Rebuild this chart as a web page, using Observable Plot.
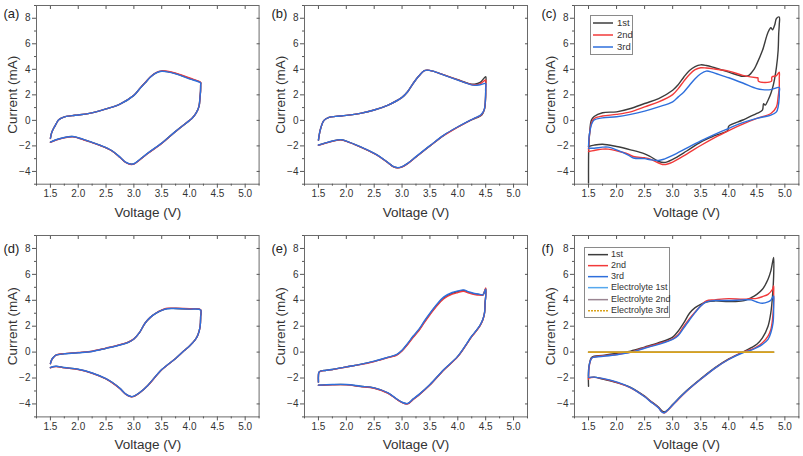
<!DOCTYPE html>
<html><head><meta charset="utf-8">
<script src="https://cdn.jsdelivr.net/npm/d3@7"></script>
<script src="https://cdn.jsdelivr.net/npm/@observablehq/plot@0.6"></script>
<style>
body{margin:0;background:#fff;font-family:"Liberation Sans",Arial,sans-serif}
#root{position:relative;width:803px;height:456px;overflow:hidden;background:#fff}
.panel{position:absolute}
.legend{position:absolute;border:1px solid #8a8a8a;background:#fff;box-sizing:border-box;color:#333}
.legend .row{position:relative;white-space:nowrap}
.legend svg{position:absolute;left:0;top:0}
.legend span{position:absolute}
</style></head>
<body><div id="root"></div>
<script>
// ---- axis ticks ----
const xTicks = [1.5, 2.0, 2.5, 3.0, 3.5, 4.0, 4.5, 5.0];
const xMinor = [1.25, 1.75, 2.25, 2.75, 3.25, 3.75, 4.25, 4.75, 5.25];
const yTicks = [-4, -2, 0, 2, 4, 6, 8];
const yMinor = [-5, -3, -1, 1, 3, 5, 7, 9];
const xDomain = [1.25, 5.25];
const yDomain = [-5, 9];

// ---- colours / names ----
const cycleNames = ["1st", "2nd", "3rd"];
const cycleColors = ["#3c3c3c", "#f23a3a", "#2e6fdc"];
const fNames = ["1st", "2nd", "3rd", "Electrolyte 1st", "Electrolyte 2nd", "Electrolyte 3rd"];
const fColors = ["#3c3c3c", "#f23a3a", "#2e6fdc", "#56a8ee", "#9a8592", "#d9a21c"];

// ---- panel (a) ----
const aBlue = [[1.5,-1.4],[1.52,-1.0],[1.56,-0.6],[1.6,-0.3],[1.65,0.05],[1.74,0.26],[1.89,0.37],[2.0,0.42],[2.2,0.55],[2.5,0.9],[2.75,1.28],[3.0,1.96],[3.1,2.46],[3.2,2.93],[3.3,3.4],[3.4,3.72],[3.5,3.85],[3.6,3.8],[3.75,3.64],[4.0,3.25],[4.2,2.93],[4.2,2.8],[4.198,2.3],[4.19,1.9],[4.17,1.1],[4.12,0.58],[4.05,0.18],[4.0,0.0],[3.75,-0.86],[3.5,-1.78],[3.25,-2.57],[3.1,-3.09],[3.0,-3.4],[2.95,-3.43],[2.85,-3.27],[2.75,-2.88],[2.6,-2.36],[2.4,-1.96],[2.2,-1.65],[2.0,-1.36],[1.9,-1.26],[1.75,-1.34],[1.6,-1.52],[1.5,-1.7]];
const aRed = [[1.5,-1.42],[1.52,-1.0],[1.56,-0.6],[1.6,-0.3],[1.65,0.05],[1.74,0.26],[1.89,0.37],[2.0,0.42],[2.2,0.55],[2.5,0.9],[2.75,1.28],[3.0,1.97],[3.1,2.47],[3.2,2.95],[3.3,3.42],[3.4,3.75],[3.5,3.88],[3.6,3.85],[3.75,3.7],[4.0,3.32],[4.2,2.98],[4.2,2.8],[4.198,2.3],[4.19,1.9],[4.17,1.1],[4.12,0.58],[4.05,0.18],[4.0,0.0],[3.75,-0.87],[3.5,-1.8],[3.25,-2.6],[3.1,-3.12],[3.0,-3.43],[2.95,-3.46],[2.85,-3.29],[2.75,-2.9],[2.6,-2.38],[2.4,-1.98],[2.2,-1.67],[2.0,-1.38],[1.9,-1.28],[1.75,-1.36],[1.6,-1.54],[1.5,-1.72]];
const aBlack = [[1.5,-1.41],[1.52,-1.0],[1.56,-0.6],[1.6,-0.3],[1.65,0.05],[1.74,0.26],[1.89,0.37],[2.0,0.42],[2.2,0.55],[2.5,0.9],[2.75,1.28],[3.0,1.96],[3.1,2.46],[3.2,2.94],[3.3,3.41],[3.4,3.73],[3.5,3.86],[3.6,3.82],[3.75,3.67],[4.0,3.28],[4.2,2.95],[4.2,2.8],[4.198,2.3],[4.19,1.9],[4.17,1.1],[4.12,0.58],[4.05,0.18],[4.0,0.0],[3.75,-0.86],[3.5,-1.79],[3.25,-2.58],[3.1,-3.1],[3.0,-3.41],[2.95,-3.44],[2.85,-3.28],[2.75,-2.89],[2.6,-2.37],[2.4,-1.97],[2.2,-1.66],[2.0,-1.37],[1.9,-1.27],[1.75,-1.35],[1.6,-1.53],[1.5,-1.71]];

// ---- panel (b) ----
const bBlue = [[1.5,-1.54],[1.52,-1.0],[1.54,-0.63],[1.6,0.0],[1.69,0.23],[1.81,0.31],[2.0,0.39],[2.25,0.55],[2.5,0.81],[2.75,1.2],[3.0,1.8],[3.1,2.24],[3.2,2.9],[3.3,3.47],[3.4,3.89],[3.45,3.94],[3.55,3.86],[3.75,3.55],[4.0,3.16],[4.2,2.84],[4.3,2.74],[4.4,2.79],[4.5,2.88],[4.5,2.5],[4.495,1.6],[4.47,0.8],[4.41,0.42],[4.32,0.21],[4.2,-0.03],[4.0,-0.5],[3.75,-1.15],[3.5,-1.98],[3.25,-2.84],[3.1,-3.37],[3.0,-3.63],[2.92,-3.7],[2.85,-3.63],[2.75,-3.31],[2.6,-2.84],[2.5,-2.58],[2.25,-2.06],[2.0,-1.62],[1.9,-1.51],[1.75,-1.62],[1.6,-1.8],[1.5,-1.93]];
const bRed = [[1.5,-1.55],[1.52,-1.0],[1.54,-0.63],[1.6,0.0],[1.69,0.23],[1.81,0.31],[2.0,0.39],[2.25,0.55],[2.5,0.81],[2.75,1.2],[3.0,1.8],[3.1,2.24],[3.2,2.9],[3.3,3.47],[3.4,3.89],[3.45,3.94],[3.55,3.86],[3.75,3.56],[4.0,3.17],[4.2,2.86],[4.3,2.78],[4.4,2.86],[4.5,3.16],[4.5,2.7],[4.497,1.7],[4.475,0.85],[4.42,0.42],[4.33,0.21],[4.2,-0.05],[4.0,-0.53],[3.75,-1.18],[3.5,-2.01],[3.25,-2.87],[3.1,-3.39],[3.0,-3.65],[2.92,-3.72],[2.85,-3.65],[2.75,-3.33],[2.6,-2.86],[2.5,-2.6],[2.25,-2.08],[2.0,-1.64],[1.9,-1.53],[1.75,-1.64],[1.6,-1.82],[1.5,-1.95]];
const bBlack = [[1.5,-1.56],[1.52,-1.0],[1.54,-0.63],[1.6,0.0],[1.69,0.23],[1.81,0.31],[2.0,0.39],[2.25,0.55],[2.5,0.81],[2.75,1.2],[3.0,1.8],[3.1,2.24],[3.2,2.9],[3.3,3.47],[3.4,3.89],[3.45,3.94],[3.55,3.86],[3.75,3.56],[4.0,3.18],[4.2,2.88],[4.3,2.84],[4.4,2.97],[4.5,3.42],[4.5,2.8],[4.498,1.8],[4.48,0.9],[4.43,0.42],[4.34,0.21],[4.2,-0.05],[4.0,-0.52],[3.75,-1.17],[3.5,-2.0],[3.25,-2.86],[3.1,-3.38],[3.0,-3.64],[2.92,-3.71],[2.85,-3.64],[2.75,-3.32],[2.6,-2.85],[2.5,-2.59],[2.25,-2.07],[2.0,-1.63],[1.9,-1.52],[1.75,-1.63],[1.6,-1.81],[1.5,-1.94]];

// ---- panel (c) ----
const cBlack = [[1.5,-4.9],[1.5,-3.5],[1.505,-2.0],[1.52,-1.0],[1.55,0.0],[1.6,0.3],[1.75,0.6],[2.0,0.67],[2.25,0.93],[2.5,1.32],[2.75,1.71],[3.0,2.36],[3.1,2.8],[3.2,3.4],[3.3,3.91],[3.4,4.22],[3.5,4.35],[3.6,4.3],[3.75,4.12],[4.0,3.78],[4.25,3.45],[4.35,3.5],[4.45,4.0],[4.5,4.43],[4.6,5.47],[4.7,6.9],[4.75,7.26],[4.78,7.1],[4.82,7.5],[4.85,7.98],[4.9,8.1],[4.9,7.5],[4.89,6.76],[4.88,5.47],[4.85,4.17],[4.8,2.88],[4.75,2.1],[4.7,1.58],[4.65,1.19],[4.62,1.3],[4.6,0.8],[4.5,0.54],[4.25,0.03],[4.0,-0.45],[3.98,-0.8],[3.75,-1.2],[3.5,-1.7],[3.25,-2.4],[3.0,-3.05],[2.85,-3.3],[2.75,-3.22],[2.6,-2.83],[2.5,-2.62],[2.25,-2.31],[2.0,-2.05],[1.75,-1.87],[1.6,-1.94],[1.5,-2.05]];
const cRed = [[1.5,-2.3],[1.51,-1.5],[1.52,-1.0],[1.55,-0.25],[1.6,0.15],[1.75,0.34],[2.0,0.47],[2.25,0.67],[2.5,1.06],[2.75,1.45],[3.0,2.02],[3.1,2.49],[3.2,3.08],[3.3,3.6],[3.4,3.97],[3.5,4.12],[3.6,4.1],[3.75,4.02],[4.0,3.86],[4.25,3.53],[4.5,3.34],[4.52,3.34],[4.53,3.06],[4.76,3.06],[4.77,3.4],[4.85,3.5],[4.9,3.78],[4.9,3.3],[4.9,2.62],[4.88,1.84],[4.85,1.06],[4.75,0.54],[4.5,0.16],[4.25,-0.29],[4.0,-0.8],[3.75,-1.35],[3.5,-1.97],[3.25,-2.64],[3.0,-3.27],[2.85,-3.47],[2.75,-3.34],[2.6,-3.03],[2.5,-2.93],[2.3,-2.83],[2.2,-2.62],[2.0,-2.38],[1.85,-2.25],[1.75,-2.25],[1.6,-2.36],[1.5,-2.44]];
const cBlue = [[1.5,-2.05],[1.51,-1.3],[1.52,-1.0],[1.55,-0.36],[1.6,0.03],[1.75,0.2],[2.0,0.28],[2.25,0.47],[2.5,0.73],[2.75,1.06],[3.0,1.45],[3.1,1.84],[3.2,2.23],[3.3,2.75],[3.4,3.27],[3.5,3.65],[3.6,3.86],[3.7,3.78],[3.75,3.7],[4.0,3.34],[4.25,2.93],[4.5,2.49],[4.6,2.41],[4.75,2.41],[4.9,2.57],[4.9,2.2],[4.9,1.84],[4.88,1.06],[4.85,0.67],[4.75,0.41],[4.5,0.16],[4.25,-0.18],[4.0,-0.62],[3.75,-1.09],[3.5,-1.61],[3.25,-2.18],[3.0,-2.75],[2.85,-3.03],[2.75,-3.14],[2.6,-3.08],[2.5,-3.0],[2.3,-2.95],[2.2,-2.7],[2.0,-2.31],[1.85,-2.1],[1.75,-2.1],[1.6,-2.18],[1.5,-2.18]];

// ---- panel (d) ----
const dBlue = [[1.5,-0.88],[1.52,-0.62],[1.55,-0.42],[1.6,-0.23],[1.7,-0.16],[1.75,-0.13],[2.0,-0.05],[2.25,0.05],[2.5,0.29],[2.75,0.55],[2.9,0.75],[3.0,1.01],[3.1,1.5],[3.2,2.23],[3.3,2.7],[3.4,3.01],[3.5,3.22],[3.6,3.35],[3.75,3.36],[4.0,3.32],[4.2,3.25],[4.2,2.75],[4.19,1.97],[4.15,1.32],[4.1,0.94],[4.0,0.47],[3.9,0.1],[3.75,-0.49],[3.5,-1.35],[3.25,-2.57],[3.1,-3.14],[3.0,-3.4],[2.95,-3.43],[2.85,-3.22],[2.75,-2.8],[2.6,-2.31],[2.5,-2.05],[2.25,-1.61],[2.0,-1.32],[1.75,-1.19],[1.6,-1.09],[1.5,-1.19]];
const dRed = [[1.5,-0.9],[1.52,-0.63],[1.55,-0.43],[1.6,-0.24],[1.7,-0.14],[1.75,-0.12],[2.0,-0.03],[2.25,0.07],[2.5,0.31],[2.75,0.57],[2.9,0.77],[3.0,1.02],[3.1,1.5],[3.2,2.23],[3.3,2.7],[3.4,3.02],[3.5,3.24],[3.6,3.38],[3.75,3.38],[4.0,3.35],[4.2,3.27],[4.2,2.75],[4.19,1.97],[4.15,1.32],[4.1,0.94],[4.0,0.47],[3.9,0.1],[3.75,-0.5],[3.5,-1.37],[3.25,-2.58],[3.1,-3.16],[3.0,-3.42],[2.95,-3.45],[2.85,-3.24],[2.75,-2.82],[2.6,-2.33],[2.5,-2.07],[2.25,-1.63],[2.0,-1.34],[1.75,-1.21],[1.6,-1.11],[1.5,-1.21]];
const dBlack = [[1.5,-0.89],[1.52,-0.62],[1.55,-0.42],[1.6,-0.23],[1.7,-0.15],[1.75,-0.12],[2.0,-0.04],[2.25,0.06],[2.5,0.3],[2.75,0.56],[2.9,0.76],[3.0,1.01],[3.1,1.5],[3.2,2.23],[3.3,2.7],[3.4,3.01],[3.5,3.23],[3.6,3.36],[3.75,3.37],[4.0,3.33],[4.2,3.26],[4.2,2.75],[4.19,1.97],[4.15,1.32],[4.1,0.94],[4.0,0.47],[3.9,0.1],[3.75,-0.49],[3.5,-1.36],[3.25,-2.57],[3.1,-3.15],[3.0,-3.41],[2.95,-3.44],[2.85,-3.23],[2.75,-2.81],[2.6,-2.32],[2.5,-2.06],[2.25,-1.62],[2.0,-1.33],[1.75,-1.2],[1.6,-1.1],[1.5,-1.2]];

// ---- panel (e) ----
const eBlue = [[1.5,-2.32],[1.5,-1.8],[1.51,-1.55],[1.55,-1.45],[1.6,-1.42],[1.75,-1.34],[2.0,-1.14],[2.25,-0.95],[2.5,-0.7],[2.75,-0.39],[2.9,-0.2],[3.0,0.15],[3.1,0.67],[3.2,1.24],[3.3,1.75],[3.4,2.4],[3.5,3.0],[3.6,3.56],[3.75,4.26],[3.9,4.6],[4.0,4.72],[4.1,4.8],[4.2,4.65],[4.3,4.52],[4.4,4.46],[4.45,4.42],[4.5,4.85],[4.5,4.3],[4.49,3.82],[4.48,3.05],[4.45,2.53],[4.4,2.09],[4.3,1.5],[4.25,1.24],[4.0,-0.31],[3.75,-1.34],[3.5,-2.5],[3.3,-3.28],[3.2,-3.61],[3.1,-3.97],[3.0,-3.87],[2.9,-3.61],[2.75,-3.15],[2.5,-2.76],[2.25,-2.63],[2.0,-2.5],[1.75,-2.5],[1.6,-2.53],[1.5,-2.55]];
const eRed = [[1.5,-2.33],[1.5,-1.8],[1.51,-1.56],[1.55,-1.46],[1.6,-1.43],[1.75,-1.35],[2.0,-1.15],[2.25,-0.97],[2.5,-0.73],[2.75,-0.43],[2.9,-0.25],[3.0,0.08],[3.1,0.58],[3.2,1.14],[3.3,1.65],[3.4,2.28],[3.5,2.88],[3.6,3.44],[3.75,4.12],[3.9,4.47],[4.0,4.6],[4.1,4.7],[4.2,4.56],[4.3,4.45],[4.4,4.4],[4.45,4.4],[4.5,4.95],[4.5,4.3],[4.49,3.82],[4.48,3.05],[4.45,2.5],[4.4,2.05],[4.3,1.45],[4.25,1.2],[4.0,-0.35],[3.75,-1.38],[3.5,-2.54],[3.3,-3.32],[3.2,-3.66],[3.1,-4.0],[3.0,-3.9],[2.9,-3.64],[2.75,-3.18],[2.5,-2.79],[2.25,-2.66],[2.0,-2.52],[1.75,-2.52],[1.6,-2.55],[1.5,-2.57]];
const eBlack = [[1.5,-2.32],[1.5,-1.8],[1.51,-1.55],[1.55,-1.45],[1.6,-1.42],[1.75,-1.34],[2.0,-1.14],[2.25,-0.95],[2.5,-0.71],[2.75,-0.41],[2.9,-0.22],[3.0,0.12],[3.1,0.63],[3.2,1.2],[3.3,1.7],[3.4,2.34],[3.5,2.95],[3.6,3.5],[3.75,4.2],[3.9,4.54],[4.0,4.67],[4.1,4.76],[4.2,4.61],[4.3,4.49],[4.4,4.43],[4.45,4.41],[4.5,4.9],[4.5,4.3],[4.49,3.82],[4.48,3.05],[4.45,2.52],[4.4,2.07],[4.3,1.48],[4.25,1.22],[4.0,-0.33],[3.75,-1.36],[3.5,-2.52],[3.3,-3.3],[3.2,-3.63],[3.1,-3.98],[3.0,-3.88],[2.9,-3.62],[2.75,-3.16],[2.5,-2.77],[2.25,-2.64],[2.0,-2.51],[1.75,-2.51],[1.6,-2.54],[1.5,-2.56]];

// ---- panel (f) ----
const fBlack = [[1.5,-2.63],[1.5,-1.4],[1.52,-0.83],[1.55,-0.44],[1.6,-0.31],[1.75,-0.26],[2.0,-0.1],[2.25,0.08],[2.5,0.39],[2.75,0.72],[3.0,1.16],[3.1,1.63],[3.2,2.27],[3.3,3.0],[3.4,3.43],[3.5,3.69],[3.6,3.87],[3.75,3.95],[4.0,3.9],[4.25,3.95],[4.4,4.2],[4.5,4.46],[4.6,4.85],[4.7,5.63],[4.75,6.27],[4.8,7.3],[4.8,5.88],[4.78,4.34],[4.75,3.05],[4.7,2.0],[4.6,1.1],[4.5,0.6],[4.4,0.34],[4.25,0.0],[4.0,-0.52],[3.75,-1.21],[3.5,-2.06],[3.25,-2.97],[3.1,-3.6],[3.0,-4.05],[2.9,-4.5],[2.85,-4.62],[2.8,-4.5],[2.75,-4.25],[2.6,-3.75],[2.5,-3.4],[2.25,-2.72],[2.0,-2.35],[1.75,-2.08],[1.6,-1.93],[1.5,-1.99]];
const fRed = [[1.5,-2.1],[1.51,-1.2],[1.53,-0.7],[1.56,-0.45],[1.6,-0.38],[2.0,-0.18],[2.25,0.0],[2.5,0.34],[2.75,0.65],[3.0,1.03],[3.1,1.36],[3.2,2.0],[3.3,2.58],[3.4,3.1],[3.5,3.56],[3.6,3.95],[3.75,4.03],[4.0,4.13],[4.25,4.08],[4.4,4.12],[4.5,4.15],[4.6,4.28],[4.7,4.46],[4.78,4.85],[4.8,5.1],[4.8,4.5],[4.8,3.82],[4.78,2.53],[4.75,1.75],[4.7,1.24],[4.6,0.72],[4.5,0.41],[4.4,0.2],[4.25,0.0],[4.0,-0.55],[3.75,-1.25],[3.5,-2.1],[3.25,-3.02],[3.1,-3.65],[3.0,-4.1],[2.9,-4.55],[2.85,-4.7],[2.8,-4.58],[2.75,-4.3],[2.6,-3.78],[2.5,-3.43],[2.25,-2.76],[2.0,-2.33],[1.75,-2.05],[1.6,-1.95],[1.5,-1.98]];
const fBlue = [[1.5,-1.85],[1.51,-1.1],[1.53,-0.7],[1.56,-0.45],[1.6,-0.4],[2.0,-0.2],[2.25,-0.02],[2.5,0.3],[2.75,0.6],[3.0,0.98],[3.1,1.29],[3.2,1.88],[3.3,2.48],[3.4,3.05],[3.5,3.56],[3.6,3.87],[3.75,3.98],[4.0,3.98],[4.25,4.03],[4.4,4.03],[4.5,3.87],[4.6,3.77],[4.7,3.87],[4.75,4.0],[4.8,4.34],[4.8,3.8],[4.8,3.3],[4.79,2.27],[4.75,1.5],[4.7,0.98],[4.6,0.6],[4.5,0.34],[4.4,0.15],[4.25,-0.05],[4.0,-0.57],[3.75,-1.25],[3.5,-2.1],[3.25,-3.0],[3.1,-3.62],[3.0,-4.08],[2.9,-4.52],[2.85,-4.68],[2.8,-4.6],[2.75,-4.32],[2.6,-3.8],[2.5,-3.45],[2.25,-2.74],[2.0,-2.3],[1.75,-2.03],[1.6,-1.93],[1.5,-1.95]];
const fElec1 = [[1.5,0.0],[4.8,0.0]];
const fElec2 = [[1.5,0.0],[4.8,0.0]];
const fElec3 = [[1.5,0.0],[4.8,0.0]];

// ---- layout (style only) ----
const colLeft = [35.7, 304.4, 573.8];
const colWidth = [222.6, 223.0, 224.4];
const rowTop = [5.3, 235.3];
const rowHeight = [178.7, 181.4];
const ML = 38, MR = 4, MT = 4, MB = 40;

const root = document.getElementById("root");

function makePanel(col, row, tag, series, labelDy) {
  const fw = colWidth[col], fh = rowHeight[row];
  const W = ML + fw + MR, H = MT + fh + MB;
  const fmt = d3.format(".1f");
  const axisColor = "#555";
  const marks = [
    Plot.frame({stroke: "#6a6a6a", strokeWidth: 1}),
    Plot.axisX(xTicks, {anchor: "bottom", tickSize: 4, tickPadding: 2, tickFormat: fmt, color: "#333", stroke: axisColor, label: null, fontSize: 10}),
    Plot.axisX(xMinor, {anchor: "bottom", tickSize: 2, tickFormat: () => "", stroke: axisColor, label: null}),
    Plot.axisX(xTicks, {anchor: "top", tickSize: -3, tickFormat: () => "", stroke: axisColor, label: null}),
    Plot.axisY(yTicks, {anchor: "left", tickSize: 4, tickPadding: 2, tickFormat: d => d3.format("")(d).replace("-", "\u2212"), color: "#333", stroke: axisColor, label: null, fontSize: 10}),
    Plot.axisY(yMinor, {anchor: "left", tickSize: 2, tickFormat: () => "", stroke: axisColor, label: null}),
    Plot.axisY(yTicks, {anchor: "right", tickSize: -3, tickFormat: () => "", stroke: axisColor, label: null}),
  ];
  for (const s of series) {
    marks.push(Plot.line(s.data, {x: d => d[0], y: d => d[1], stroke: s.color, strokeWidth: s.width || 1.4, strokeDasharray: s.dash || null, curve: s.curve || "catmull-rom"}));
  }
  marks.push(
    Plot.text(["Voltage (V)"], {frameAnchor: "bottom", dy: 28, textAnchor: "middle", lineAnchor: "middle", fontSize: 13.5, fill: "#333"}),
    Plot.text(["Current (mA)"], {frameAnchor: "left", dx: -24, rotate: -90, textAnchor: "middle", lineAnchor: "middle", fontSize: 13.5, fill: "#333"}),
    Plot.text([tag], {frameAnchor: "top-left", dx: -33, dy: labelDy, textAnchor: "start", lineAnchor: "middle", fontSize: 13, fill: "#222"})
  );
  const svg = Plot.plot({
    width: W, height: H,
    marginLeft: ML, marginRight: MR, marginTop: MT, marginBottom: MB,
    x: {domain: xDomain},
    y: {domain: yDomain},
    style: {fontFamily: "'Liberation Sans', Arial, sans-serif", fontSize: "10px", background: "transparent", overflow: "visible"},
    marks
  });
  svg.classList.add("panel");
  svg.style.position = "absolute";
  svg.style.left = (colLeft[col] - ML) + "px";
  svg.style.top = (rowTop[row] - MT) + "px";
  root.appendChild(svg);
}

const cyc = (k, r, u) => [
  {data: k, color: cycleColors[0]},
  {data: r, color: cycleColors[1]},
  {data: u, color: cycleColors[2]}
];

makePanel(0, 0, "(a)", cyc(aBlack, aRed, aBlue), 8);
makePanel(1, 0, "(b)", cyc(bBlack, bRed, bBlue), 8);
makePanel(2, 0, "(c)", cyc(cBlack, cRed, cBlue), 8);
makePanel(0, 1, "(d)", cyc(dBlack, dRed, dBlue), 13);
makePanel(1, 1, "(e)", cyc(eBlack, eRed, eBlue), 13);
makePanel(2, 1, "(f)", [
  {data: fBlack, color: fColors[0]},
  {data: fRed, color: fColors[1]},
  {data: fBlue, color: fColors[2]},
  {data: fElec1, color: fColors[3], curve: "linear"},
  {data: fElec2, color: fColors[4], curve: "linear"},
  {data: fElec3, color: fColors[5], width: 1.6, curve: "linear"}
], 13);

// ---- legends (HTML) ----
function legend(left, top, w, rowH, padTop, lineX0, lineX1, textX, fontSize, names, colors, dashes) {
  const box = document.createElement("div");
  box.className = "legend";
  Object.assign(box.style, {left: left + "px", top: top + "px", width: w + "px", paddingTop: padTop + "px", paddingBottom: padTop + "px", fontSize: fontSize + "px"});
  names.forEach((n, i) => {
    const row = document.createElement("div");
    row.className = "row";
    row.style.height = rowH + "px";
    const dash = dashes && dashes[i] ? `stroke-dasharray="${dashes[i]}"` : "";
    row.innerHTML = `<svg width="${lineX1 + 2}" height="${rowH}"><line x1="${lineX0}" x2="${lineX1}" y1="${rowH / 2}" y2="${rowH / 2}" stroke="${colors[i]}" stroke-width="1.5" ${dash}/></svg><span style="left:${textX}px;top:0;line-height:${rowH}px">${n}</span>`;
    box.appendChild(row);
  });
  root.appendChild(box);
}
legend(590, 15, 43, 12, 1, 2, 22, 26, 9.5, cycleNames, cycleColors);
legend(584, 247, 86, 11.3, 0.5, 3, 23, 26, 9, fNames, fColors, [null, null, null, null, null, "2,1"]);
</script>
</body></html>
